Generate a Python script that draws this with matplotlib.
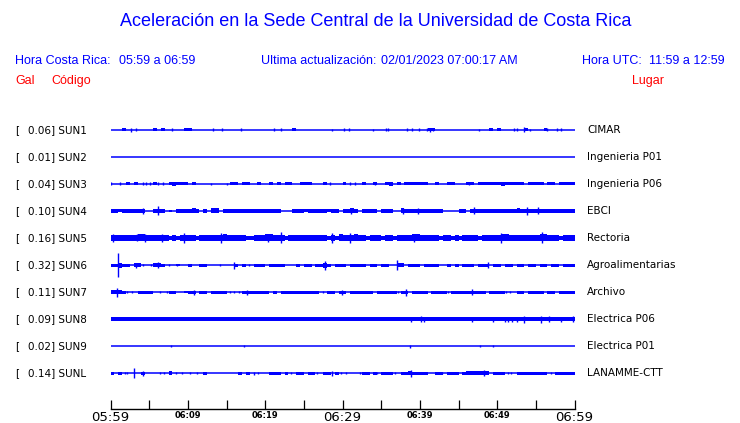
import matplotlib
matplotlib.use("Agg")
import matplotlib.pyplot as plt
from matplotlib.transforms import blended_transform_factory

W, H = 740, 423
BLUE = "#0000ff"
RED = "#ff0000"

codes = ["SUN1", "SUN2", "SUN3", "SUN4", "SUN5", "SUN6", "SUN7", "SUN8", "SUN9", "SUNL"]
peaks = [0.06, 0.01, 0.04, 0.10, 0.16, 0.32, 0.11, 0.09, 0.02, 0.14]
places = ["CIMAR", "Ingenieria P01", "Ingenieria P06", "EBCI", "Rectoria",
          "Agroalimentarias", "Archivo", "Electrica P06", "Electrica P01", "LANAMME-CTT"]

tick_minutes = [0, 5, 10, 15, 20, 25, 30, 35, 40, 45, 50, 55, 60]
tick_labels = ["05:59", "", "06:09", "", "06:19", "", "06:29", "", "06:39", "", "06:49", "", "06:59"]
big_labels = ["05:59", "06:29", "06:59"]

# envelope, one digit per half minute (digit = half-amplitude in half pixels)
env_sun1 = "0003000000 0303000003 3000000000 0000000000 0000000300 0000000000 0000000000 0000000000 0033000000 0000000030 3000000300 0030000000"
env_sun2 = "0000000000 0000000000 0000000000 0000000000 0000000000 0000000000 0000000000 0000000000 0000000000 0000000000 0000000000 0000000000"
env_sun3 = "0000303000 0300034333 0300000000 0330330030 0303033003 3300030000 3000030030 0340303333 3300300330 0033033333 3433333033 3303303333"
env_sun4 = "4434444440 0444020444 4540405504 4444444444 4444000444 3444443440 4454044440 4440054444 4444440000 4404444444 4444454444 4444444444"
env_sun5 = "6666666776 6666646466 6646666667 6666644666 7766646666 6666664647 6667664666 4664666677 6666646646 4666646666 6776666666 6776664666"
env_sun6 = "3353304400 0443000200 3003300000 0030300333 0333300030 3303353033 3033330330 3300440333 0333300303 0333033303 3033033033 0330330333"
env_sun7 = "4443000333 3000033002 3303303333 0000333333 3030333333 3333003303 3033333303 3333033033 3303333033 3333333033 3300033033 3303303333"
env_sun8 = "4444444444 4444444444 4444444444 4444444444 4444444444 4444444444 4444444444 4444444444 4444444444 4444444444 4444444444 4444444444"
env_sun9 = "0000000000 0000000000 0000000000 0000000000 0000000000 0000000000 0000000000 0000000000 0000000000 0000000000 0000000000 0000000000"
env_sunl = "3030000030 0000040000 0000300000 0003030000 0333030033 0330033030 0000033030 3330033433 3300330333 0344444403 3300033333 3330033333"

# isolated spikes: (minute, half-amplitude in px)
spk_sun1 = [(2.7, 2.3), (3.3, 1.5), (7.9, 1.5), (13.2, 1.5), (14.4, 1.5), (16.9, 1.5), (21.2, 1.5),
            (22.0, 1.5), (28.6, 1.0), (30.2, 1.5), (30.8, 1.5), (34.0, 1.0), (35.6, 1.5), (35.9, 1.5),
            (38.4, 1.5), (39.0, 1.5), (39.9, 1.5), (40.9, 1.5), (41.3, 2.0), (41.7, 1.0), (47.7, 1.0),
            (52.2, 1.5), (52.5, 1.5), (53.5, 2.5), (54.2, 1.0), (56.5, 1.5), (57.8, 1.5), (58.2, 1.5)]
spk_sun2 = []
spk_sun3 = [(0.1, 1.5), (1.2, 1.5), (4.2, 1.5), (4.6, 1.5), (5.1, 1.5), (6.2, 1.5), (6.8, 1.5),
            (13.0, 1.2), (15.0, 1.2), (28.4, 1.5), (31.0, 1.5), (31.6, 1.5), (34.2, 1.5), (36.3, 1.5), (46.4, 1.5)]
spk_sun4 = [(4.2, 3.3), (6.2, 4.5), (31.1, 2.8), (37.8, 2.8), (39.8, 2.8), (47.0, 3.5), (53.9, 3.7), (55.3, 3.5)]
spk_sun5 = [(0.3, 4.0), (3.4, 3.5), (4.5, 4.0), (6.6, 4.0), (9.5, 4.5), (14.3, 4.5), (20.4, 4.0),
            (22.0, 5.5), (28.6, 4.5), (31.0, 4.5), (39.3, 4.0), (50.5, 5.0), (55.8, 5.5)]
spk_sun6 = [(1.0, 12.0), (3.35, 2.5), (4.2, 1.2), (5.2, 1.2), (6.15, 3.0), (7.5, 1.2), (8.6, 1.2),
            (14.2, 1.2), (16.0, 3.5), (17.9, 1.2), (27.7, 4.5), (37.1, 5.0), (48.8, 3.0)]
spk_sun7 = [(0.86, 4.5), (2.15, 1.2), (2.8, 1.2), (6.45, 1.2), (7.3, 1.2), (10.8, 2.5), (15.5, 1.2),
            (16.0, 1.2), (16.6, 1.2), (17.6, 2.5), (27.5, 1.2), (29.9, 2.5), (37.2, 1.2), (38.2, 3.5),
            (43.7, 1.2), (46.7, 3.0), (51.2, 1.2), (51.6, 1.2)]
spk_sun8 = [(38.9, 2.5), (40.1, 3.0), (40.6, 2.5), (46.7, 2.5), (49.4, 2.5), (51.0, 2.5), (51.4, 2.5),
            (51.9, 2.5), (52.6, 2.5), (53.5, 3.5), (55.7, 3.5), (56.7, 3.0), (58.3, 2.5), (59.8, 3.0)]
spk_sun9 = [(7.8, 1.0), (17.2, 1.0), (38.7, 1.5), (47.8, 1.0), (49.5, 1.0)]
spk_sunl = [(1.85, 1.2), (2.15, 1.2), (3.0, 5.0), (4.2, 2.5), (6.45, 1.2), (6.9, 1.2), (8.5, 1.2),
            (9.2, 1.2), (10.3, 1.2), (11.2, 1.2), (18.6, 1.5), (19.1, 1.2), (23.4, 1.2), (26.7, 1.2),
            (28.7, 2.5), (29.8, 1.2), (30.4, 1.2), (32.3, 1.2), (34.5, 1.2), (36.8, 1.2), (38.8, 3.5),
            (42.9, 1.2), (48.3, 3.0), (51.4, 1.2), (51.8, 1.2), (57.0, 1.2)]

envelopes = [env_sun1, env_sun2, env_sun3, env_sun4, env_sun5,
             env_sun6, env_sun7, env_sun8, env_sun9, env_sunl]
spikes = [spk_sun1, spk_sun2, spk_sun3, spk_sun4, spk_sun5,
          spk_sun6, spk_sun7, spk_sun8, spk_sun9, spk_sunl]

SPACING = 27.0  # px between traces
BIN = 0.5       # minutes per envelope digit

fig = plt.figure(figsize=(W / 100, H / 100), dpi=100)
fig.patch.set_facecolor("white")

# traces axes: x in minutes, y in trace index (1 unit = 27 px)
left, right = 110.5, 574.5
top_px, bot_px = 130 - 13.5, 373 + 13.5
ax = fig.add_axes([left / W, 1 - bot_px / H, (right - left) / W, (bot_px - top_px) / H])
ax.set_xlim(0, 60)
ax.set_ylim(9.5, -0.5)
ax.axis("off")

for i, (env, spk) in enumerate(zip(envelopes, spikes)):
    amps = [int(c) * 0.5 / SPACING for c in env.replace(" ", "")]
    ax.hlines(i, 0, 60, color=BLUE, lw=1.1)
    xs = [(k + 0.5) * BIN for k, a in enumerate(amps) if a > 0]
    aa = [a for a in amps if a > 0]
    if xs:
        ax.bar(xs, [2 * a for a in aa], bottom=[i - a for a in aa], width=BIN,
               color=BLUE, linewidth=0)
    if spk:
        t = [s[0] for s in spk]
        a = [s[1] / SPACING for s in spk]
        ax.vlines(t, [i - v for v in a], [i + v for v in a], color=BLUE, lw=1.0)

tr = blended_transform_factory(fig.transFigure, ax.transData)
for i in range(len(codes)):
    ax.text(15 / W, i, "[", transform=tr, ha="left", va="center", fontsize=7.5,
            family="DejaVu Sans", color="black")
    ax.text(27.5 / W, i, f"{peaks[i]:.2f}] {codes[i]}", transform=tr, ha="left", va="center",
            fontsize=7.5, family="DejaVu Sans", color="black")
    ax.text(587 / W, i, places[i], transform=tr, ha="left", va="center", fontsize=7.5,
            family="DejaVu Sans", color="black")

# time axis
ax_t = fig.add_axes([left / W, 1 - 409 / H, (right - left) / W, 0.02])
ax_t.set_xlim(0, 60)
ax_t.set_ylim(0, 1)
for s in ["top", "left", "right"]:
    ax_t.spines[s].set_visible(False)
ax_t.spines["bottom"].set_linewidth(1.0)
ax_t.set_yticks([])
ax_t.set_xticks(tick_minutes, tick_labels)
ax_t.tick_params(axis="x", direction="in", length=6.5, width=0.9, pad=1.5, color="black")
ax_t.patch.set_alpha(0)
for lab in ax_t.get_xticklabels():
    if lab.get_text() in big_labels:
        lab.set_fontsize(9.5)
    else:
        lab.set_fontsize(6)
        lab.set_fontweight("bold")
    lab.set_family("DejaVu Sans")

# header
hf = "Liberation Sans"
fs = 9
fig.text(376 / W, 1 - 22 / H, "Aceleración en la Sede Central de la Universidad de Costa Rica",
         ha="center", va="center", fontsize=13, color=BLUE, family=hf)
fig.text(15 / W, 1 - 61 / H, "Hora Costa Rica:", ha="left", va="center", fontsize=fs, color=BLUE, family=hf)
fig.text(119 / W, 1 - 61 / H, "05:59 a 06:59", ha="left", va="center", fontsize=fs, color=BLUE, family=hf)
fig.text(261 / W, 1 - 61 / H, "Ultima actualización:", ha="left", va="center", fontsize=fs, color=BLUE, family=hf)
fig.text(381 / W, 1 - 61 / H, "02/01/2023 07:00:17 AM", ha="left", va="center", fontsize=fs, color=BLUE, family=hf)
fig.text(582 / W, 1 - 61 / H, "Hora UTC:", ha="left", va="center", fontsize=fs, color=BLUE, family=hf)
fig.text(725 / W, 1 - 61 / H, "11:59 a 12:59", ha="right", va="center", fontsize=fs, color=BLUE, family=hf)
fig.text(15 / W, 1 - 81 / H, "Gal", ha="left", va="center", fontsize=fs, color=RED, family=hf)
fig.text(51 / W, 1 - 81 / H, "Código", ha="left", va="center", fontsize=fs, color=RED, family=hf)
fig.text(632 / W, 1 - 81 / H, "Lugar", ha="left", va="center", fontsize=fs, color=RED, family=hf)

fig.savefig("out.png", dpi=100, facecolor="white")
